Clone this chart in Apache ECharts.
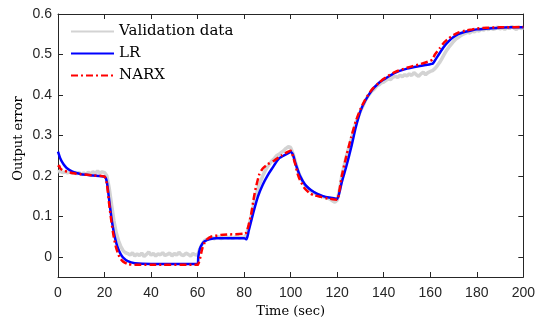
<!DOCTYPE html>
<html><head><meta charset="utf-8">
<script src="https://cdn.jsdelivr.net/npm/echarts@6/dist/echarts.min.js"></script>
<style>html,body{margin:0;padding:0;background:#fff}#c{width:538px;height:323px}</style>
</head><body><div id="c"></div>
<script>
// Tick values
const xTicks = [0,20,40,60,80,100,120,140,160,180,200];
const yTicks = [0,0.1,0.2,0.3,0.4,0.5,0.6];

// Validation data (sampled every 1 s, t = 0..200)
const valData = [
0.21,0.212,0.208,0.21,0.207,0.211,0.206,0.209,0.205,0.208,0.204,0.207,0.203,0.209,0.205,0.21,0.206,0.212,0.207,0.21,
0.208,0.2,0.17,0.13,0.09,0.06,0.04,0.025,0.015,0.01,0.008,
0.004,0.01,0.002,0.007,0.003,0.009,0.001,0.006,0.012,0.004,0.008,0.002,0.007,0.005,0.01,0.003,0.006,0.009,0.002,0.008,0.004,0.011,0.005,0.003,0.009,0.006,0.002,0.008,0.005,
0.004,0.02,0.032,0.04,0.043,
0.046,0.049,0.044,0.048,0.05,0.045,0.047,0.052,0.046,0.049,0.045,0.048,0.051,0.046,0.048,0.047,
0.055,0.075,0.1,0.125,0.15,0.17,0.185,0.2,0.212,0.222,0.23,0.238,0.243,0.25,0.253,0.258,0.262,0.268,0.272,0.27,
0.255,0.235,0.215,0.2,0.188,0.178,0.172,0.165,0.162,0.158,0.155,0.153,0.15,0.148,0.146,0.145,0.142,0.138,0.135,0.14,
0.165,0.2,0.225,0.25,0.27,0.29,0.31,0.33,0.345,0.36,0.372,0.385,0.395,0.403,0.41,0.415,0.422,0.425,0.43,0.432,
0.436,0.44,0.438,0.444,0.446,0.443,0.449,0.445,0.45,0.447,0.452,0.448,0.455,0.45,0.446,0.452,0.456,0.45,0.455,0.458,
0.46,0.465,0.472,0.48,0.49,0.5,0.51,0.518,0.525,0.532,0.538,0.542,0.546,0.55,0.552,0.555,0.553,0.558,0.556,0.56,
0.558,0.563,0.56,0.565,0.561,0.566,0.562,0.564,0.568,0.563,0.566,0.562,0.567,0.564,0.569,0.565,0.562,0.567,0.564,0.566
];

// LR model
const lrT = [0,1,2,3,4,6,8,10,15,20,21,22,23,24,25,26,27,28,30,33,40,50,60,
  60.3,61,62,63,65,68,70,75,80,81,82,84,86,88,90,92,95,98,100,
  101,102,103,104,106,108,110,112,115,118,120,
  121,122,124,126,128,130,132,135,138,140,145,150,155,160,161,
  162,164,166,168,170,172,175,178,180,185,190,195,200];
const lrV = [0.26,0.243,0.232,0.224,0.218,0.211,0.207,0.204,0.201,0.198,0.185,0.14,0.095,0.06,0.035,0.018,0.006,-0.002,-0.011,-0.016,-0.018,-0.018,-0.018,
  0.0,0.02,0.032,0.038,0.043,0.046,0.046,0.046,0.046,0.043,0.065,0.11,0.15,0.178,0.2,0.218,0.243,0.253,0.259,
  0.252,0.232,0.215,0.2,0.18,0.168,0.16,0.154,0.148,0.145,0.143,
  0.16,0.185,0.225,0.27,0.32,0.36,0.385,0.412,0.43,0.438,0.455,0.465,0.471,0.476,0.477,
  0.485,0.503,0.52,0.533,0.543,0.55,0.556,0.56,0.562,0.564,0.566,0.567,0.567];

// NARX model
const narxT = [0,0.5,1,2,4,6,10,15,20,21,22,23,24,25,26,27,28,30,33,40,60,
  60.5,61,62,63,64,66,70,80,81,82,83,84,85,86.6,88,90,93,96,100,
  101,102,103,104,106,108,110,113,116,120,
  121,122,124,126,128,130,132,135,138,140,145,150,155,160,161,
  162,164,166,168,170,172,175,178,180,185,190,200];
const narxV = [0.222,0.225,0.218,0.214,0.21,0.207,0.204,0.201,0.198,0.18,0.13,0.085,0.048,0.022,0.005,-0.006,-0.012,-0.018,-0.02,-0.02,-0.02,
  -0.015,-0.005,0.02,0.035,0.043,0.05,0.054,0.057,0.06,0.08,0.104,0.14,0.17,0.205,0.218,0.228,0.238,0.25,0.262,
  0.248,0.228,0.205,0.19,0.169,0.158,0.152,0.148,0.144,0.141,
  0.165,0.2,0.25,0.295,0.335,0.365,0.388,0.414,0.43,0.44,0.457,0.467,0.475,0.484,0.488,
  0.5,0.515,0.53,0.54,0.548,0.554,0.559,0.562,0.564,0.566,0.567,0.568];

const zip = (t, v) => t.map((x, i) => [x, v[i]]);
const valPairs = valData.map((v, i) => [i, v]);

const axisCol = '#262626';
const tickStyle = {show: true, inside: true, length: 5, lineStyle: {color: axisCol, width: 1}};
const lineStyleAx = {show: true, onZero: false, lineStyle: {color: axisCol, width: 1}};
const chart = echarts.init(document.getElementById('c'), null, {renderer: 'canvas'});
chart.setOption({
  animation: false,
  grid: {left: 58, right: 13, top: 14, bottom: 45},
  legend: {
    data: ['Validation data', 'LR', 'NARX'],
    orient: 'vertical', left: 70, top: 24, padding: 0,
    itemWidth: 43, itemHeight: 14, itemGap: 7,
    itemStyle: {opacity: 0},
    textStyle: {fontFamily: 'DejaVu Serif', fontSize: 15, color: '#000'}
  },
  xAxis: [{
    type: 'value', min: 0, max: 200, interval: 20, position: 'bottom',
    name: 'Time (sec)', nameLocation: 'middle', nameGap: 28, nameMoveOverlap: false,
    nameTextStyle: {fontFamily: 'DejaVu Serif', fontSize: 13, color: '#000'},
    axisLine: lineStyleAx,
    axisTick: Object.assign({customValues: xTicks}, tickStyle),
    axisLabel: {margin: 9, fontFamily: 'Liberation Sans', fontSize: 14, color: axisCol, customValues: xTicks},
    splitLine: {show: false}
  }, {
    type: 'value', min: 0, max: 200, interval: 20, position: 'top',
    axisLine: lineStyleAx,
    axisTick: Object.assign({customValues: xTicks}, tickStyle),
    axisLabel: {show: false}, splitLine: {show: false}
  }],
  yAxis: [{
    type: 'value', min: -0.05, max: 0.6, position: 'left',
    name: 'Output error', nameLocation: 'middle', nameGap: 33, nameMoveOverlap: false,
    nameTextStyle: {fontFamily: 'DejaVu Serif', fontSize: 13, color: '#000', padding: [0, 0, 0, 14]},
    axisLine: lineStyleAx,
    axisTick: Object.assign({customValues: yTicks}, tickStyle),
    axisLabel: {margin: 6, fontFamily: 'Liberation Sans', fontSize: 14, color: axisCol, customValues: yTicks,
      formatter: v => (Math.abs(v) < 1e-9 ? '0' : v.toFixed(1))},
    splitLine: {show: false}
  }, {
    type: 'value', min: -0.05, max: 0.6, position: 'right',
    axisLine: lineStyleAx,
    axisTick: Object.assign({customValues: yTicks}, tickStyle),
    axisLabel: {show: false}, splitLine: {show: false}
  }],
  series: [{
    name: 'Validation data', type: 'line', data: valPairs, showSymbol: false, symbol: 'none',
    lineStyle: {color: '#d3d3d3', width: 3.5}, itemStyle: {color: '#d3d3d3'}, z: 1
  }, {
    name: 'LR', type: 'line', data: zip(lrT, lrV), showSymbol: false, symbol: 'none', smooth: 0.2,
    lineStyle: {color: '#0000ff', width: 2.5}, itemStyle: {color: '#0000ff'}, z: 2
  }, {
    name: 'NARX', type: 'line', data: zip(narxT, narxV), showSymbol: false, symbol: 'none', smooth: 0.2,
    lineStyle: {color: '#ff0000', width: 2.5, type: [7, 3, 2, 3]}, itemStyle: {color: '#ff0000'}, z: 3
  }]
});
</script></body></html>
